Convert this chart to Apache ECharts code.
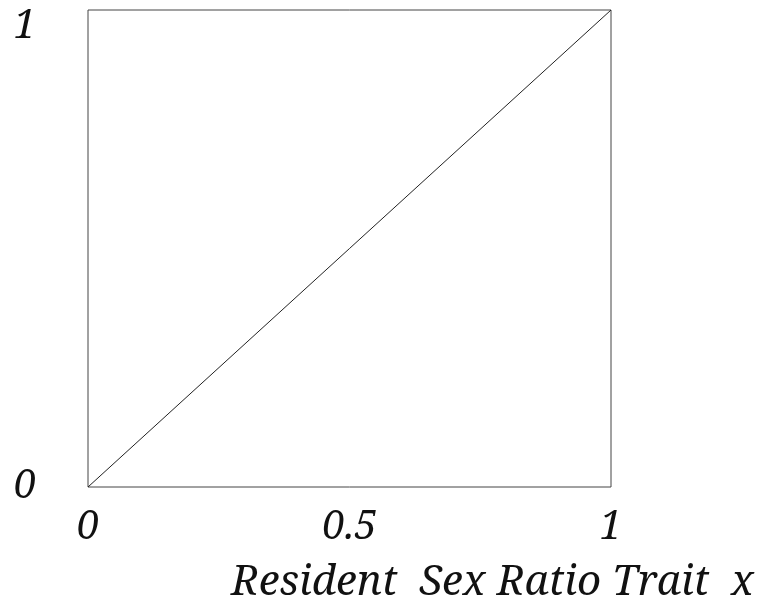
<!DOCTYPE html>
<html>
<head>
<meta charset="utf-8">
<script src="https://cdn.jsdelivr.net/npm/echarts@6/dist/echarts.min.js"></script>
<style>html,body{margin:0;padding:0;background:#fff;}#c{width:765px;height:606px;}</style>
</head>
<body>
<div id="c"></div>
<script>
var xTickValues = [0, 0.5, 1];
var yTickValues = [0, 1];
var lineX = [0, 1];
var lineY = [0, 1];
var xTitle = 'Resident  Sex Ratio Trait  x';

var font = 'Noto Serif';
var chart = echarts.init(document.getElementById('c'), null, {renderer: 'canvas'});
chart.setOption({
  animation: false,
  backgroundColor: '#fff',
  title: {
    text: xTitle,
    right: 6,
    top: 557,
    textStyle: {fontFamily: font, fontStyle: 'italic', fontWeight: 'normal', fontSize: 42, color: '#111'}
  },
  grid: {left: 88, right: 154, top: 10, bottom: 119, show: true, borderColor: '#444', borderWidth: 1},
  xAxis: {
    type: 'value', min: 0, max: 1, interval: 0.5,
    axisLine: {show: false}, axisTick: {show: false}, splitLine: {show: false},
    axisLabel: {
      margin: 21, fontFamily: font, fontStyle: 'italic', fontSize: 40, color: '#111',
      formatter: function (v) { return xTickValues.indexOf(v) >= 0 ? String(v) : ''; }
    }
  },
  yAxis: {
    type: 'value', min: 0, max: 1, interval: 1,
    axisLine: {show: false}, axisTick: {show: false}, splitLine: {show: false},
    axisLabel: {
      margin: 52, fontFamily: font, fontStyle: 'italic', fontSize: 40, color: '#111',
      formatter: function (v) { return v === 1 ? '{t|' + v + '}' : '{b|' + v + '}'; },
      rich: {
        t: {fontFamily: font, fontStyle: 'italic', fontSize: 40, color: '#111', padding: [34, 0, 0, 0]},
        b: {fontFamily: font, fontStyle: 'italic', fontSize: 40, color: '#111'}
      }
    }
  },
  series: [{
    type: 'line',
    data: lineX.map(function (x, i) { return [x, lineY[i]]; }),
    showSymbol: false,
    lineStyle: {color: '#222', width: 1}
  }]
});
</script>
</body>
</html>
